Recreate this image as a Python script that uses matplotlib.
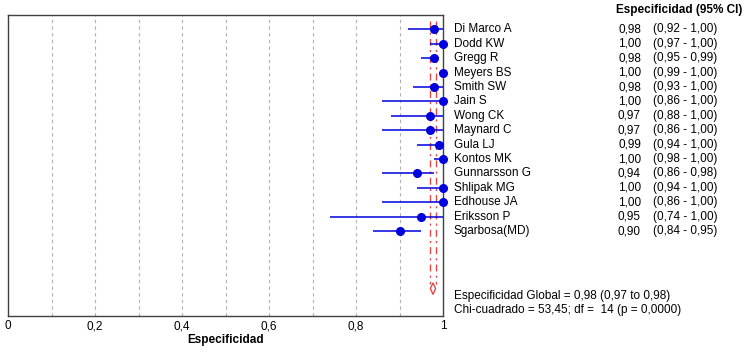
import matplotlib
matplotlib.use('Agg')
import matplotlib.pyplot as plt
import matplotlib.transforms as mtransforms
import numpy as np

studies = ['Di Marco A', 'Dodd KW', 'Gregg R', 'Meyers BS', 'Smith SW', 'Jain S',
           'Wong CK', 'Maynard C', 'Gula LJ', 'Kontos MK', 'Gunnarsson G',
           'Shlipak MG', 'Edhouse JA', 'Eriksson P', 'Sgarbosa(MD)']
spec = [0.98, 1.00, 0.98, 1.00, 0.98, 1.00, 0.97, 0.97, 0.99, 1.00, 0.94,
        1.00, 1.00, 0.95, 0.90]
ci_lo = [0.92, 0.97, 0.95, 0.99, 0.93, 0.86, 0.88, 0.86, 0.94, 0.98, 0.86,
         0.94, 0.86, 0.74, 0.84]
ci_hi = [1.00, 1.00, 0.99, 1.00, 1.00, 1.00, 1.00, 1.00, 1.00, 1.00, 0.98,
         1.00, 1.00, 1.00, 0.95]
pooled = 0.977
pooled_lo = 0.971
pooled_hi = 0.983
chi2 = 53.45
df_chi = 14


def fmt(v, n=2):
    return ('%.*f' % (n, v)).replace('.', ',')


def main():
    plt.rcParams['font.family'] = ['Liberation Sans', 'DejaVu Sans']
    fig = plt.figure(figsize=(7.48, 3.52), dpi=100)
    ax = fig.add_axes([8 / 748, 1 - 316 / 352, 435 / 748, 301 / 352])

    y = np.arange(len(studies))
    yd = 18
    red = '#e04848'
    ax.vlines([pooled_lo, pooled_hi], -0.6, yd - 0.3, color=red, lw=1,
              linestyles=[(0, (5, 3, 1.5, 3))], zorder=1)
    ax.fill([pooled_lo, pooled, pooled_hi, pooled],
            [yd, yd - 0.4, yd, yd + 0.4], facecolor='white',
            edgecolor=red, lw=1, zorder=3)

    ax.hlines(y, ci_lo, ci_hi, color='#0000dd', lw=1.1, zorder=2)
    ax.plot(spec, y, 'o', color='#0000dd', ms=5.5, ls='none', clip_on=False,
            zorder=4)

    ax.set_xlim(0, 1)
    ax.set_ylim(19.9, -1)
    ticks = np.arange(0, 1.01, 0.2)
    ax.set_xticks(ticks)
    ax.set_xticklabels([fmt(v, 1) if 0 < v < 0.99 else '%d' % round(v)
                        for v in ticks], fontsize=8.5)
    ax.tick_params(axis='x', length=0, pad=3)
    ax.set_yticks([])
    for g in np.arange(0.1, 1.0, 0.1):
        ax.axvline(g, color='#b0b0b0', lw=0.8, ls=(0, (3, 3)), zorder=0)
    ax.set_xlabel('Especificidad', fontsize=8.5, fontweight='bold', labelpad=1)
    for s in ax.spines.values():
        s.set_color('#404040')
        s.set_linewidth(1)

    tr = mtransforms.blended_transform_factory(fig.transFigure, ax.transData)
    for i, name in enumerate(studies):
        fig.text(454 / 748, i, name, transform=tr, fontsize=8.5, va='center')
        fig.text(641 / 748, i, fmt(spec[i]), transform=tr, fontsize=8.5,
                 va='center', ha='right')
        fig.text(653 / 748, i, '(%s - %s)' % (fmt(ci_lo[i]), fmt(ci_hi[i])),
                 transform=tr, fontsize=8.5, va='center')
    fig.text(742 / 748, 1 - 10 / 352, 'Especificidad (95% CI)', fontsize=8.5,
             fontweight='bold', ha='right', va='center')
    fig.text(454 / 748, 1 - 296 / 352,
             'Especificidad Global = %s (%s to %s)' % (fmt(pooled), fmt(pooled_lo), fmt(pooled_hi)),
             fontsize=8.5, va='center')
    fig.text(454 / 748, 1 - 310 / 352,
             'Chi-cuadrado = %s; df =  %d (p = 0,0000)' % (fmt(chi2), df_chi),
             fontsize=8.5, va='center')

    fig.savefig('out.png', dpi=100)


if __name__ == "__main__":
    main()
